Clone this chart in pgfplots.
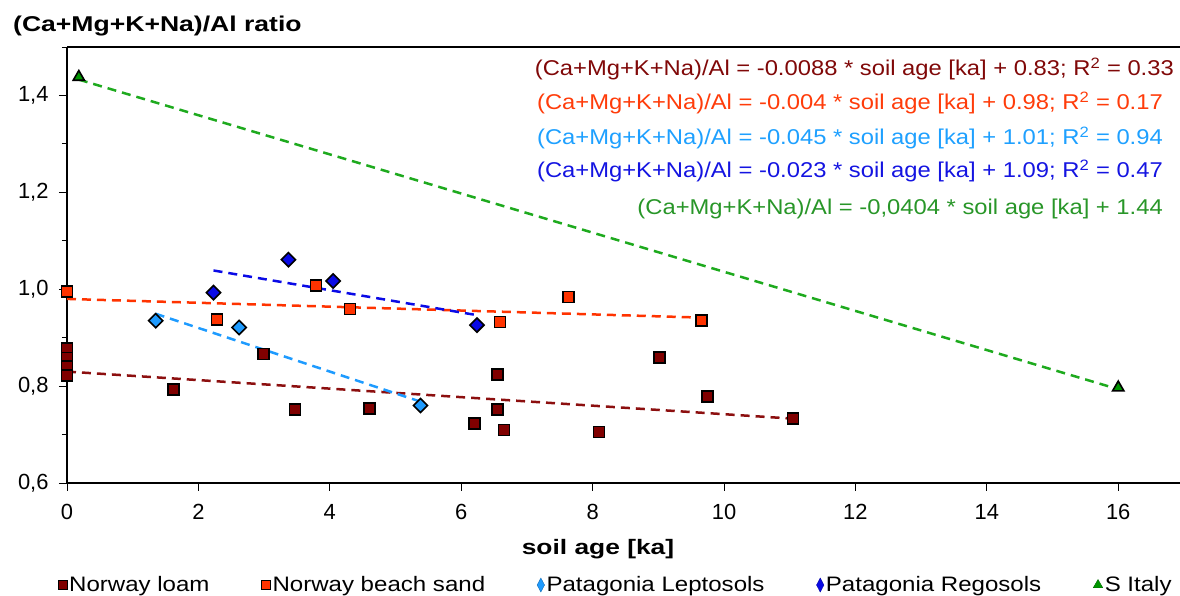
\documentclass[border=0pt]{standalone}
\usepackage{pgfplots}
\pgfplotsset{compat=1.18}
\usepackage{fontspec}
\setmainfont{Liberation Sans}
\definecolor{loam}{RGB}{128,0,0}
\definecolor{sand}{RGB}{255,51,0}
\definecolor{lepto}{RGB}{30,155,255}
\definecolor{rego}{RGB}{10,10,230}
\definecolor{italy}{RGB}{0,150,0}
\definecolor{italyline}{RGB}{30,170,30}
\definecolor{loamline}{RGB}{140,15,15}
\definecolor{loamtxt}{RGB}{128,8,8}
\definecolor{sandtxt}{RGB}{255,60,10}
\definecolor{leptotxt}{RGB}{30,160,255}
\definecolor{regotxt}{RGB}{20,20,225}
\definecolor{italytxt}{RGB}{40,150,40}

\pgfplotsset{myleg/.style={legend image code/.code={\draw[mark repeat=2,mark phase=2,##1] plot coordinates {(0bp,0bp)(5bp,0bp)(15bp,0bp)};}}}

\pgfplotstableread{
x y
0 0.878
0 0.858
0 0.840
0 0.822
1.62 0.793
2.99 0.866
3.47 0.752
4.60 0.754
6.20 0.723
6.55 0.752
6.55 0.824
6.65 0.709
8.10 0.705
9.02 0.859
9.75 0.778
11.05 0.733
}\loam
\pgfplotstableread{
x y
0 0.995
2.28 0.938
3.79 1.008
4.31 0.959
6.59 0.932
7.63 0.984
9.66 0.935
}\sand
\pgfplotstableread{
x y
1.35 0.935
2.62 0.921
5.38 0.760
}\lepto
\pgfplotstableread{
x y
2.23 0.993
3.37 1.061
4.05 1.017
6.24 0.926
}\rego
\pgfplotstableread{
x y
0.18 1.438
16 0.797
}\italy

\begin{document}
\begin{tikzpicture}
\begin{axis}[
  at={(67bp,113bp)}, anchor=south west,
  scale only axis, width=1113bp, height=436bp,
  xmin=0, xmax=16.94, ymin=0.6, ymax=1.5,
  axis y line*=left,
  xtick pos=left,
  tick align=outside,
  clip=false,
  xtick={0,2,4,6,8,10,12,14,16},
  ytick={0.6,0.8,1.0,1.2,1.4},
  minor ytick={0.7,0.9,1.1,1.3,1.5},
  major tick length=8bp, minor tick length=5bp,
  every tick/.style={black, line width=0.8bp},
  axis line style={line width=1.6bp},
  tick label style={font=\fontsize{22}{26}\selectfont},
  /pgf/number format/assume math mode=true,
  yticklabel style={xshift=-7bp, /pgf/number format/.cd, fixed, fixed zerofill, precision=1, use comma},
  xticklabel style={yshift=-10bp},
  legend columns=5,
  legend cell align=left,
  legend style={at={(axis description cs:-0.0081,-0.234)}, anchor=west, draw=none, fill=none,
    font=\fontsize{21}{25}\selectfont, inner sep=0pt,
    /tikz/every even column/.append style={column sep=50bp}},
  trend/.style={dash pattern=on 9bp off 6bp, line width=2.5bp, forget plot},
]
% trend lines
\addplot[trend, loamline] coordinates {(0,0.83) (11.05,0.7328)};
\addplot[trend, sand] coordinates {(0,0.98) (9.66,0.9414)};
\addplot[trend, lepto] coordinates {(1.35,0.9493) (5.38,0.7679)};
\addplot[trend, rego] coordinates {(2.23,1.0387) (6.24,0.9465)};
\addplot[trend, italyline] coordinates {(0.18,1.4327) (16,0.7936)};
% points
\addplot[only marks, forget plot, mark=square*, mark size=5.5bp, mark options={fill=loam, draw=black, line width=1.6bp}] table {\loam};
\addplot[only marks, forget plot, mark=square*, mark size=5.5bp, mark options={fill=sand, draw=black, line width=1.6bp}] table {\sand};
\addplot[only marks, forget plot, mark=square*, mark size=5bp, mark options={fill=lepto, draw=black, line width=1.6bp, rotate=45}] table {\lepto};
\addplot[only marks, forget plot, mark=square*, mark size=5bp, mark options={fill=rego, draw=black, line width=1.6bp, rotate=45}] table {\rego};
\addplot[only marks, forget plot, mark=triangle*, mark size=6.5bp, mark options={fill=italy, draw=black, line width=1.6bp}] table {\italy};
% legend
\addlegendimage{only marks, mark=square*, mark size=4.5bp, mark options={fill=loam, draw=black, line width=0.6bp}, myleg}
\addlegendentry{\scalebox{1.15}[1]{Norway loam}}
\addlegendimage{only marks, mark=square*, mark size=4.5bp, mark options={fill=sand, draw=black, line width=0.6bp}, myleg}
\addlegendentry{\scalebox{1.15}[1]{Norway beach sand}}
\addlegendimage{only marks, mark=diamond*, mark size=7bp, mark options={fill=lepto, draw=lepto!70!black, line width=0.4bp, xscale=0.7}, myleg}
\addlegendentry{\scalebox{1.15}[1]{Patagonia Leptosols}}
\addlegendimage{only marks, mark=diamond*, mark size=7bp, mark options={fill=rego, draw=rego!70!black, line width=0.4bp, xscale=0.7}, myleg}
\addlegendentry{\scalebox{1.15}[1]{Patagonia Regosols}}
\addlegendimage{only marks, mark=triangle*, mark size=5.5bp, mark options={fill=italy, draw=italy!70!black, line width=0.4bp}, myleg}
\addlegendentry{\scalebox{1.15}[1]{S Italy}}
\end{axis}
% texts
\node[anchor=base west, inner sep=0pt, font=\fontsize{21.5}{26}\selectfont\bfseries] at (13bp,564bp) {\scalebox{1.24}[1]{(Ca+Mg+K+Na)/Al ratio}};
\node[inner sep=0pt, font=\fontsize{21}{26}\selectfont\bfseries] at (598bp,47bp) {\scalebox{1.26}[1]{soil age [ka]}};
\begin{scope}[every node/.style={anchor=base east, inner sep=0pt, font=\fontsize{21.5}{25}\selectfont}]
\node[text=loamtxt] at (1174bp,520bp) {\scalebox{1.11}[1]{(Ca+Mg+K+Na)/Al = -0.0088 * soil age [ka] + 0.83; R\textsuperscript{2} = 0.33}};
\node[text=sandtxt] at (1163bp,486bp) {\scalebox{1.11}[1]{(Ca+Mg+K+Na)/Al = -0.004 * soil age [ka] + 0.98; R\textsuperscript{2} = 0.17}};
\node[text=leptotxt] at (1163bp,451bp) {\scalebox{1.11}[1]{(Ca+Mg+K+Na)/Al = -0.045 * soil age [ka] + 1.01; R\textsuperscript{2} = 0.94}};
\node[text=regotxt] at (1163bp,418bp) {\scalebox{1.11}[1]{(Ca+Mg+K+Na)/Al = -0.023 * soil age [ka] + 1.09; R\textsuperscript{2} = 0.47}};
\node[text=italytxt] at (1163bp,381bp) {\scalebox{1.11}[1]{(Ca+Mg+K+Na)/Al = -0,0404 * soil age [ka] + 1.44}};
\end{scope}
\pgfresetboundingbox
\path[use as bounding box] (0,0) rectangle (1180bp,596bp);
\end{tikzpicture}
\end{document}
